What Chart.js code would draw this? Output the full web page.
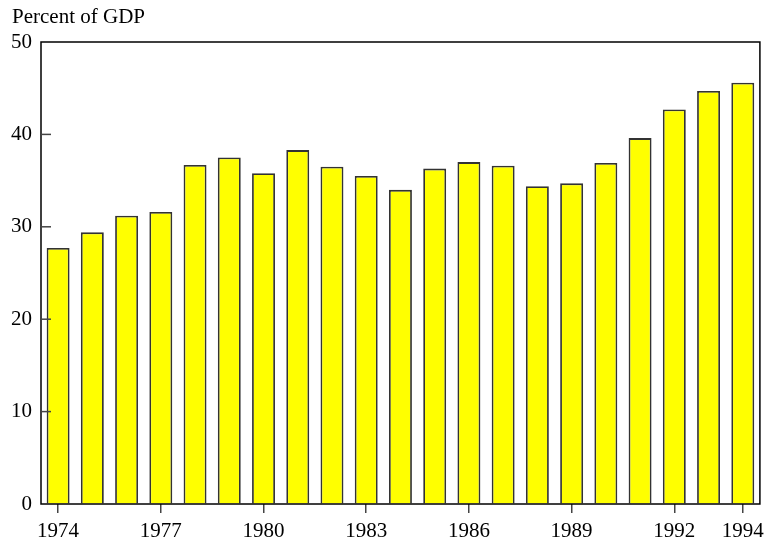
<!DOCTYPE html>
<html>
<head>
<meta charset="utf-8">
<script src="https://cdn.jsdelivr.net/npm/chart.js@4.4.1/dist/chart.umd.min.js"></script>
<style>
  html, body { margin: 0; padding: 0; background: #fff; }
  #wrap { width: 770px; height: 546px; position: relative; }
</style>
</head>
<body>
<div id="wrap"><canvas id="myChart" width="770" height="546"></canvas></div>
<script>
var anos = ["1974", "1975", "1976", "1977", "1978", "1979", "1980", "1981", "1982", "1983",
  "1984", "1985", "1986", "1987", "1988", "1989", "1990", "1991", "1992", "1993", "1994"];
var valores = [27.7, 29.4, 31.2, 31.6, 36.7, 37.5, 35.8, 38.3, 36.5, 35.5,
  34.0, 36.3, 37.0, 36.6, 34.4, 34.7, 36.9, 39.6, 42.7, 44.7, 45.6];
var anosMostrados = ["1974", "1977", "1980", "1983", "1986", "1989", "1992", "1994"];
var ticksY = [10, 20, 30, 40];
var titulo = "Percent of GDP";

var fonte = "'Liberation Serif', 'Times New Roman', serif";

// moldura, ticks internos do eixo y e o titulo
var moldura = {
  id: "moldura",
  afterDraw: function (chart) {
    var ctx = chart.ctx;
    var a = chart.chartArea;
    var y = chart.scales.y;
    ctx.save();
    ctx.strokeStyle = "#000";
    ctx.lineWidth = 1.5;
    ctx.strokeRect(a.left, a.top, a.right - a.left, a.bottom - a.top);
    ctx.strokeStyle = "#444";
    ctx.lineWidth = 1.5;
    ticksY.forEach(function (v) {
      var py = y.getPixelForValue(v);
      ctx.beginPath();
      ctx.moveTo(a.left, py);
      ctx.lineTo(a.left + 10, py);
      ctx.stroke();
    });
    ctx.fillStyle = "#000";
    ctx.font = "21px " + fonte;
    ctx.textBaseline = "alphabetic";
    ctx.fillText(titulo, 12, 23);
    ctx.restore();
  }
};

var ctx = document.getElementById("myChart");
var config = {
  type: "bar",
  data: {
    labels: anos,
    datasets: [
      {
        data: valores,
        backgroundColor: "#FFFF00",
        borderColor: "#333",
        borderWidth: 1.8,
        categoryPercentage: 1,
        barPercentage: 0.67,
      },
    ],
  },
  options: {
    responsive: false,
    animation: false,
    layout: { padding: { top: 42, right: 9, left: 0, bottom: 0 } },
    plugins: { legend: { display: false }, tooltip: { enabled: false } },
    scales: {
      x: {
        grid: {
          offset: false,
          drawOnChartArea: false,
          drawTicks: true,
          tickLength: 9,
          lineWidth: 1.5,
          color: function (c) {
            return anosMostrados.indexOf(anos[c.index]) >= 0 ? "#444" : "rgba(0,0,0,0)";
          },
        },
        border: { display: false },
        ticks: {
          autoSkip: false,
          maxRotation: 0,
          padding: 6,
          color: "#000",
          font: { family: fonte, size: 21 },
          callback: function (v, i) {
            return anosMostrados.indexOf(anos[i]) >= 0 ? anos[i] : "";
          },
        },
        afterFit: function (s) { s.height = 42; },
      },
      y: {
        min: 0,
        max: 50,
        grid: { drawOnChartArea: false, drawTicks: false },
        border: { display: false },
        ticks: {
          stepSize: 10,
          padding: 9,
          color: "#000",
          font: { family: fonte, size: 21 },
        },
        afterFit: function (s) { s.width = 41; },
      },
    },
  },
  plugins: [moldura],
};

var myChart = new Chart(ctx, config);
</script>
</body>
</html>
